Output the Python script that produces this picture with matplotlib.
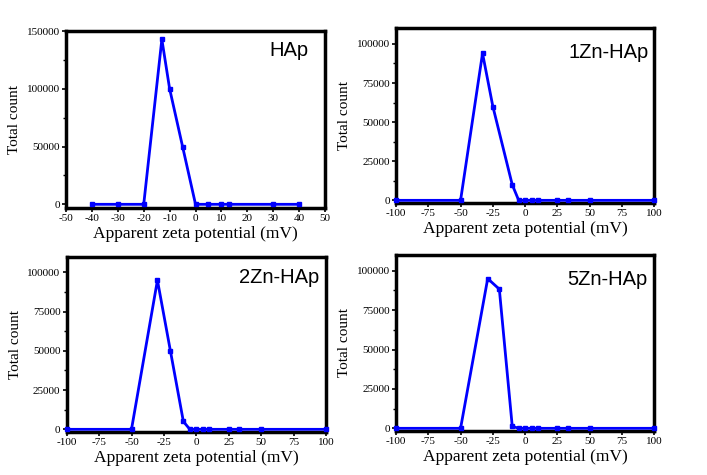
import matplotlib
matplotlib.use("Agg")
import matplotlib.pyplot as plt
from matplotlib.ticker import MultipleLocator, AutoMinorLocator

plt.rcParams['font.family'] = ['Liberation Serif', 'DejaVu Serif']
plt.rcParams['axes.unicode_minus'] = False

# zeta potential distributions (mV, total count)
hap_x = [-40, -30, -20, -13, -10, -5, 0, 5, 10, 13, 30, 40]
hap_y = [0, 0, 0, 142800, 100000, 50000, 0, 0, 0, 0, 0, 0]

zn1_x = [-100, -50, -33, -25, -10, -5, 0, 5, 10, 25, 33, 50, 100]
zn1_y = [0, 0, 94000, 60000, 10000, 0, 0, 0, 0, 0, 0, 0, 0]

zn2_x = [-100, -50, -30, -20, -10, -5, 0, 5, 10, 25, 33, 50, 100]
zn2_y = [0, 0, 95000, 50000, 5000, 0, 0, 0, 0, 0, 0, 0, 0]

zn5_x = [-100, -50, -29, -20, -10, -5, 0, 5, 10, 25, 33, 50, 100]
zn5_y = [0, 0, 95000, 88300, 1300, 0, 0, 0, 0, 0, 0, 0, 0]

names = ["HAp", "1Zn-HAp", "2Zn-HAp", "5Zn-HAp"]

fig = plt.figure(figsize=(7.07, 4.75), dpi=100)

boxes = [
    [0.0934, 0.5621, 0.3663, 0.3726],
    [0.5601, 0.5733, 0.3654, 0.3671],
    [0.0943, 0.0912, 0.3668, 0.3684],
    [0.5601, 0.0933, 0.3654, 0.3699],
]
label_pos = [(0.938, 0.941), (0.98, 0.915), (0.973, 0.935), (0.973, 0.916)]
data = [(hap_x, hap_y), (zn1_x, zn1_y), (zn2_x, zn2_y), (zn5_x, zn5_y)]

for i in range(4):
    ax = fig.add_axes(boxes[i])
    x, y = data[i]
    ax.plot(x, y, color="#0000ff", lw=2, marker="s", ms=3.5, clip_on=False, zorder=5)
    if i == 0:
        ax.set_xlim(-50, 50)
        ax.set_ylim(-3200, 150000)
        ax.xaxis.set_major_locator(MultipleLocator(10))
        ax.yaxis.set_major_locator(MultipleLocator(50000))
    else:
        ax.set_xlim(-100, 100)
        ax.set_ylim(-1500, 110000)
        ax.xaxis.set_major_locator(MultipleLocator(25))
        ax.yaxis.set_major_locator(MultipleLocator(25000))
    ax.yaxis.set_minor_locator(AutoMinorLocator(2))
    for s in ax.spines.values():
        s.set_linewidth(2.5)
    ax.tick_params(which="major", direction="out", length=3, width=1.2, labelsize=8, pad=1.5)
    ax.tick_params(which="minor", direction="out", length=2, width=1)
    ax.set_xlabel("Apparent zeta potential (mV)", fontsize=12.6, labelpad=2)
    ax.set_ylabel("Total count", fontsize=11, labelpad=4)
    lx, ly = label_pos[i]
    ax.text(lx, ly, names[i], transform=ax.transAxes, ha="right", va="top",
            fontsize=14.5, family=["Liberation Sans", "DejaVu Sans"])

fig.savefig("out.png", dpi=100)
